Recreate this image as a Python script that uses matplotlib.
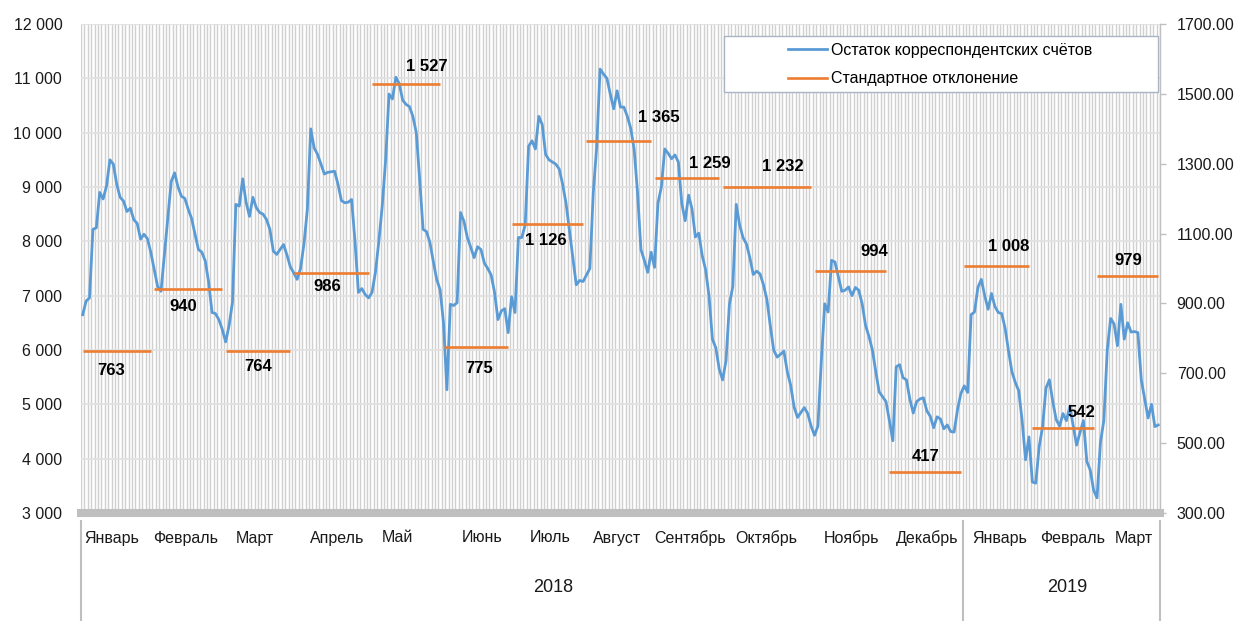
import matplotlib
matplotlib.use("Agg")
import matplotlib.pyplot as plt
import matplotlib.transforms as mtransforms
from matplotlib.lines import Line2D
from matplotlib.patches import Rectangle
from matplotlib.ticker import FuncFormatter, MultipleLocator, FixedLocator
import numpy as np

plt.rcParams['font.family'] = ['Liberation Sans', 'DejaVu Sans']

# ---------------- data ----------------
month_names = ['Январь', 'Февраль', 'Март', 'Апрель', 'Май', 'Июнь', 'Июль',
               'Август', 'Сентябрь', 'Октябрь', 'Ноябрь', 'Декабрь',
               'Январь', 'Февраль', 'Март']
years = ['2018', '2019']
months_in_year = [12, 3]

jan18 = [6650, 6900, 6960, 8220, 8250, 8900, 8780, 9020, 9500, 9420, 9050, 8810, 8740, 8550, 8610, 8400, 8330, 8040, 8130, 8050, 7800]
feb18 = [7480, 7170, 7080, 7750, 8400, 9100, 9260, 9000, 8830, 8790, 8590, 8420, 8130, 7850, 7800, 7640, 7250, 6690, 6670, 6560, 6380]
mar18 = [6150, 6450, 6880, 8680, 8650, 9150, 8720, 8460, 8810, 8620, 8530, 8500, 8400, 8220, 7820, 7760, 7850, 7940, 7750, 7530]
apr18 = [7420, 7300, 7500, 7950, 8590, 10070, 9720, 9600, 9420, 9240, 9270, 9280, 9290, 9050, 8750, 8710, 8720, 8770, 8000, 7060, 7130, 7020, 6960]
may18 = [7060, 7430, 8000, 8650, 9500, 10710, 10620, 11020, 10900, 10600, 10520, 10480, 10300, 10000, 9140, 8220, 8180, 7980, 7630, 7300, 7110]
jun18 = [6500, 5270, 6840, 6820, 6870, 8530, 8370, 8070, 7890, 7700, 7900, 7850, 7600, 7500, 7380, 7060, 6560, 6720, 6760, 6320]
jul18 = [6980, 6690, 8070, 8070, 8300, 9750, 9850, 9700, 10300, 10150, 9600, 9500, 9460, 9420, 9330, 9050, 8700, 8200, 7700, 7200, 7280, 7260]
aug18 = [7380, 7500, 8900, 9730, 11170, 11080, 11000, 10710, 10440, 10770, 10470, 10470, 10300, 10080, 9700, 8900, 7850, 7650, 7430, 7800]
sep18 = [7520, 8700, 9000, 9700, 9620, 9520, 9590, 9460, 8700, 8380, 8850, 8600, 8080, 8150, 7740, 7480, 7000, 6200, 6040, 5650]
oct18 = [5450, 5800, 6840, 7170, 8680, 8300, 8070, 7950, 7700, 7390, 7450, 7400, 7200, 6930, 6450, 6000, 5870, 5920, 5980, 5600, 5350, 4950, 4760, 4850, 4940, 4830, 4600]
nov18 = [4430, 4600, 5800, 6850, 6700, 7650, 7620, 7350, 7080, 7100, 7160, 7000, 7150, 7100, 6850, 6450, 6250, 6000, 5600, 5230, 5140, 5050]
dec18 = [4700, 4330, 5690, 5730, 5490, 5450, 5100, 4840, 5050, 5100, 5120, 4880, 4780, 4570, 4770, 4730, 4550, 4620, 4500, 4490, 4900, 5200]
jan19 = [5340, 5220, 6650, 6700, 7150, 7300, 7000, 6750, 7040, 6800, 6690, 6670, 6400, 5980, 5600, 5400, 5250, 4700, 3980, 4400]
feb19 = [3570, 3550, 4220, 4590, 5300, 5450, 5050, 4720, 4600, 4830, 4700, 4960, 4600, 4250, 4480, 4700, 3950, 3790, 3420]
mar19 = [3280, 4300, 4700, 6000, 6580, 6480, 6080, 6840, 6200, 6500, 6330, 6340, 6320, 5450, 5100, 4750, 5000, 4590, 4620]

monthly_balance = [jan18, feb18, mar18, apr18, may18, jun18, jul18, aug18,
                   sep18, oct18, nov18, dec18, jan19, feb19, mar19]

std_dev = [763, 940, 764, 986, 1527, 775, 1126, 1365, 1259, 1232, 994, 417, 1008, 542, 979]

series_names = ['Остаток корреспондентских счётов', 'Стандартное отклонение']

left_ticks = [3000, 4000, 5000, 6000, 7000, 8000, 9000, 10000, 11000, 12000]
right_ticks = [300, 500, 700, 900, 1100, 1300, 1500, 1700]

# ---------------- styling / positions ----------------
W, H = 1238, 621
BLUE = '#5b9bd5'
ORANGE = '#ed7d31'
GRID = '#d0d0d0'
AXIS_GRAY = '#bfbfbf'
TXT = '#1a1a1a'

# label offsets in pixels (dx, dy downward) relative to segment centre
std_label_offsets = [(-6, 19), (-5, 17), (0, 16), (-4, 13), (21, -18), (3, 21), (-2, 16),
                     (40, -24), (23, -15), (16, -21), (24, -19), (0, -16), (12, -19),
                     (18, -16), (1, -15)]
month_label_dx = [-5, -3, -3, 6, -9, 6, 3, -2, 3, -1, 1, 2, 3, 10, 6]
year_label_dx = [31, 6]

counts = [len(m) for m in monthly_balance]
starts = np.concatenate([[0], np.cumsum(counts)[:-1]])
ends = starts + np.array(counts) - 1
balance = np.concatenate(monthly_balance)
N = len(balance)
x = np.arange(N)

fig = plt.figure(figsize=(W / 100, H / 100), dpi=100)
fig.patch.set_facecolor('white')
ax = fig.add_axes([81 / W, (H - 513) / H, 1079 / W, 489 / H])
ax.set_facecolor('white')
ax2 = ax.twinx()

# vertical category grid
ax.set_xlim(-0.5, N - 0.5)
ax.set_xticks([])
ax.set_xticks(np.arange(N + 1) - 0.5, minor=True)
ax.tick_params(axis='x', which='both', length=0, labelbottom=False)
ax.grid(which='minor', axis='x', color=GRID, linewidth=1.0)

# left axis
ax.set_ylim(left_ticks[0], left_ticks[-1])
ax.yaxis.set_major_locator(FixedLocator(left_ticks))
ax.yaxis.set_major_formatter(FuncFormatter(lambda v, p: f"{int(v):,}".replace(',', ' ')))
ax.tick_params(axis='y', length=0, pad=13.5, labelsize=11.5, labelcolor=TXT)
ax.grid(which='major', axis='y', color='#e2e2e2', linewidth=1.3)

for s in ['top', 'left', 'right']:
    ax.spines[s].set_visible(False)
ax.spines['bottom'].set_color(AXIS_GRAY)
ax.spines['bottom'].set_linewidth(5.8)

# right axis
ax2.set_ylim(right_ticks[0], right_ticks[-1])
ax2.yaxis.set_major_locator(FixedLocator(right_ticks))
ax2.yaxis.set_major_formatter(FuncFormatter(lambda v, p: f"{v:.2f}"))
ax2.tick_params(axis='y', length=4.5, width=1, color=AXIS_GRAY, pad=7.5,
                labelsize=11.5, labelcolor=TXT)
for s in ['top', 'left', 'bottom']:
    ax2.spines[s].set_visible(False)
ax2.spines['right'].set_color(AXIS_GRAY)
ax2.spines['right'].set_linewidth(1.0)

# series
ax.plot(x, balance, color=BLUE, linewidth=2.0, solid_joinstyle='round', zorder=3)
ax2.hlines(std_dev, starts, ends, color=ORANGE, linewidth=1.9, zorder=3)

for i, v in enumerate(std_dev):
    cx = (starts[i] + ends[i]) / 2
    dx, dy = std_label_offsets[i]
    ax2.annotate(f"{v:,}".replace(',', ' '), xy=(cx, v), xytext=(dx, -dy),
                 textcoords='offset pixels', ha='center', va='center',
                 fontsize=12, fontweight='bold', color='black')

# category labels (two levels)
blend = mtransforms.blended_transform_factory(ax.transData, ax.transAxes)
for i, name in enumerate(month_names):
    cx = (starts[i] + ends[i]) / 2
    ax.annotate(name, xy=(cx, 0), xycoords=blend, xytext=(month_label_dx[i], -25),
                textcoords='offset pixels', ha='center', va='center',
                fontsize=11.5, color=TXT, annotation_clip=False)

m0 = 0
bounds = [-0.5]
for j, yr in enumerate(years):
    m1 = m0 + months_in_year[j]
    x0 = starts[m0] - 0.5
    x1 = ends[m1 - 1] + 0.5
    bounds.append(x1)
    ax.annotate(yr, xy=((x0 + x1) / 2, 0), xycoords=blend, xytext=(year_label_dx[j], -75),
                textcoords='offset pixels', ha='center', va='center',
                fontsize=13, color=TXT, annotation_clip=False)
    m0 = m1

for b in bounds:
    ax.plot([b, b], [-8 / 489, -(H - 513) / 489], transform=blend, color=AXIS_GRAY,
            linewidth=1.5, clip_on=False, zorder=2)

# legend with custom frame
frame = Rectangle((724 / W, 1 - 92 / H), 434 / W, 56 / H, transform=fig.transFigure,
                  facecolor='white', edgecolor='#a9b4c4', linewidth=1.0, zorder=2)
fig.patches.append(frame)
handles = [Line2D([], [], color=BLUE, linewidth=2.0), Line2D([], [], color=ORANGE, linewidth=1.9)]
fig.legend(handles, series_names, loc='center', bbox_to_anchor=(940 / W, 1 - 64.5 / H),
           bbox_transform=fig.transFigure, frameon=False, fontsize=11.5,
           handlelength=2.4, handletextpad=0.25, labelspacing=0.85, borderpad=0)

fig.savefig('out.png', dpi=100, facecolor='white')
